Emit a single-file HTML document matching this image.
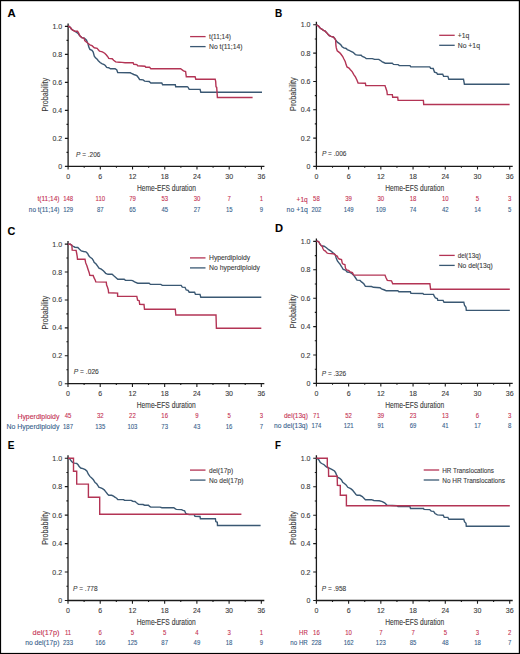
<!DOCTYPE html>
<html><head><meta charset="utf-8"><style>
html,body{margin:0;padding:0;background:#fff;}
svg{display:block;}
text{font-family:"Liberation Sans", sans-serif;stroke-width:0.1px;}
</style></head><body>
<svg width="520" height="654" viewBox="0 0 520 654">
<rect width="520" height="654" fill="#fff"/>
<text x="0" y="16.70" font-size="11.4" font-weight="bold" fill="#000" stroke="#000" transform="translate(7.40 0) scale(0.990 1)">A</text>
<path d="M68.10 23.40V166.40H264.42" fill="none" stroke="#1a1a1a" stroke-width="1.3"/>
<path d="M64.90 166.40H68.10M66.50 152.40H68.10M64.90 138.40H68.10M66.50 124.40H68.10M64.90 110.40H68.10M66.50 96.40H68.10M64.90 82.40H68.10M66.50 68.40H68.10M64.90 54.40H68.10M66.50 40.40H68.10M64.90 26.40H68.10M68.10 166.40V169.60M84.21 166.40V167.80M100.32 166.40V169.60M116.43 166.40V167.80M132.54 166.40V169.60M148.65 166.40V167.80M164.76 166.40V169.60M180.87 166.40V167.80M196.98 166.40V169.60M213.09 166.40V167.80M229.20 166.40V169.60M245.31 166.40V167.80M261.42 166.40V169.60" stroke="#1a1a1a" stroke-width="1.1" fill="none"/>
<text x="62.20" y="168.90" text-anchor="end" font-size="7" fill="#3a3a3a" stroke="#3a3a3a">0</text>
<text x="62.20" y="140.90" text-anchor="end" font-size="7" fill="#3a3a3a" stroke="#3a3a3a">0.2</text>
<text x="62.20" y="112.90" text-anchor="end" font-size="7" fill="#3a3a3a" stroke="#3a3a3a">0.4</text>
<text x="62.20" y="84.90" text-anchor="end" font-size="7" fill="#3a3a3a" stroke="#3a3a3a">0.6</text>
<text x="62.20" y="56.90" text-anchor="end" font-size="7" fill="#3a3a3a" stroke="#3a3a3a">0.8</text>
<text x="62.20" y="28.90" text-anchor="end" font-size="7" fill="#3a3a3a" stroke="#3a3a3a">1.0</text>
<text x="68.10" y="178.70" text-anchor="middle" font-size="7" fill="#3a3a3a" stroke="#3a3a3a">0</text>
<text x="100.32" y="178.70" text-anchor="middle" font-size="7" fill="#3a3a3a" stroke="#3a3a3a">6</text>
<text x="132.54" y="178.70" text-anchor="middle" font-size="7" fill="#3a3a3a" stroke="#3a3a3a">12</text>
<text x="164.76" y="178.70" text-anchor="middle" font-size="7" fill="#3a3a3a" stroke="#3a3a3a">18</text>
<text x="196.98" y="178.70" text-anchor="middle" font-size="7" fill="#3a3a3a" stroke="#3a3a3a">24</text>
<text x="229.20" y="178.70" text-anchor="middle" font-size="7" fill="#3a3a3a" stroke="#3a3a3a">30</text>
<text x="261.42" y="178.70" text-anchor="middle" font-size="7" fill="#3a3a3a" stroke="#3a3a3a">36</text>
<text transform="translate(47.70 94.70) rotate(-90)" text-anchor="middle" font-size="8.8" fill="#3a3a3a" stroke="#3a3a3a" textLength="33.6" lengthAdjust="spacingAndGlyphs">Probability</text>
<text x="136.90" y="190.70" font-size="8.2" fill="#3a3a3a" stroke="#3a3a3a" textLength="59" lengthAdjust="spacingAndGlyphs">Heme-EFS duration</text>
<text x="76.00" y="157.30" font-size="7" fill="#3a3a3a" stroke="#3a3a3a" textLength="24.4" lengthAdjust="spacingAndGlyphs"><tspan font-style="italic">P</tspan> = .206</text>
<path d="M190.10 36.60h15.5" stroke="#b33455" stroke-width="1.3"/>
<path d="M190.10 46.60h15.5" stroke="#3a5873" stroke-width="1.3"/>
<text x="209.10" y="39.10" font-size="7" fill="#3a3a3a" stroke="#3a3a3a" textLength="21.9" lengthAdjust="spacingAndGlyphs">t(11;14)</text>
<text x="209.10" y="49.10" font-size="7" fill="#3a3a3a" stroke="#3a3a3a" textLength="33.3" lengthAdjust="spacingAndGlyphs">No t(11;14)</text>
<text x="59.50" y="201.30" text-anchor="end" font-size="7" fill="#c42e50" stroke="#c42e50" textLength="22.1" lengthAdjust="spacingAndGlyphs">t(11;14)</text>
<text x="59.50" y="211.70" text-anchor="end" font-size="7" fill="#355d8a" stroke="#355d8a" textLength="30.7" lengthAdjust="spacingAndGlyphs">no t(11;14)</text>
<text x="0.00" y="201.30" text-anchor="middle" font-size="7.3" fill="#c42e50" stroke="#c42e50" transform="translate(68.10 0) scale(0.82 1) translate(0.00 0)">148</text>
<text x="0.00" y="211.70" text-anchor="middle" font-size="7.3" fill="#355d8a" stroke="#355d8a" transform="translate(68.10 0) scale(0.82 1) translate(0.00 0)">129</text>
<text x="0.00" y="201.30" text-anchor="middle" font-size="7.3" fill="#c42e50" stroke="#c42e50" transform="translate(100.32 0) scale(0.82 1) translate(0.00 0)">110</text>
<text x="0.00" y="211.70" text-anchor="middle" font-size="7.3" fill="#355d8a" stroke="#355d8a" transform="translate(100.32 0) scale(0.82 1) translate(0.00 0)">87</text>
<text x="0.00" y="201.30" text-anchor="middle" font-size="7.3" fill="#c42e50" stroke="#c42e50" transform="translate(132.54 0) scale(0.82 1) translate(0.00 0)">79</text>
<text x="0.00" y="211.70" text-anchor="middle" font-size="7.3" fill="#355d8a" stroke="#355d8a" transform="translate(132.54 0) scale(0.82 1) translate(0.00 0)">65</text>
<text x="0.00" y="201.30" text-anchor="middle" font-size="7.3" fill="#c42e50" stroke="#c42e50" transform="translate(164.76 0) scale(0.82 1) translate(0.00 0)">53</text>
<text x="0.00" y="211.70" text-anchor="middle" font-size="7.3" fill="#355d8a" stroke="#355d8a" transform="translate(164.76 0) scale(0.82 1) translate(0.00 0)">45</text>
<text x="0.00" y="201.30" text-anchor="middle" font-size="7.3" fill="#c42e50" stroke="#c42e50" transform="translate(196.98 0) scale(0.82 1) translate(0.00 0)">30</text>
<text x="0.00" y="211.70" text-anchor="middle" font-size="7.3" fill="#355d8a" stroke="#355d8a" transform="translate(196.98 0) scale(0.82 1) translate(0.00 0)">27</text>
<text x="0.00" y="201.30" text-anchor="middle" font-size="7.3" fill="#c42e50" stroke="#c42e50" transform="translate(229.20 0) scale(0.82 1) translate(0.00 0)">7</text>
<text x="0.00" y="211.70" text-anchor="middle" font-size="7.3" fill="#355d8a" stroke="#355d8a" transform="translate(229.20 0) scale(0.82 1) translate(0.00 0)">15</text>
<text x="0.00" y="201.30" text-anchor="middle" font-size="7.3" fill="#c42e50" stroke="#c42e50" transform="translate(261.42 0) scale(0.82 1) translate(0.00 0)">1</text>
<text x="0.00" y="211.70" text-anchor="middle" font-size="7.3" fill="#355d8a" stroke="#355d8a" transform="translate(261.42 0) scale(0.82 1) translate(0.00 0)">9</text>
<path d="M68.10 26.40L69.20 26.40L70.60 27.80L71.50 29.20L73.20 30.30L74.90 31.50L76.70 32.40L78.40 33.80L79.50 35.50L80.10 36.10L81.80 37.60L84.20 38.10L85.30 39.00L86.50 40.20L87.90 43.60L88.80 47.10L89.90 49.40L92.00 50.30L93.20 52.10L94.30 56.10L95.50 57.80L97.20 59.30L98.30 60.70L100.10 62.50L101.80 63.60L104.10 64.50L105.30 65.60L106.70 67.40L108.70 67.70L110.50 68.80L115.10 68.80L116.80 70.00L117.70 72.50L130.40 72.80L131.50 73.50L133.80 74.50L136.90 75.70L138.10 77.20L139.60 79.50L143.10 79.90L144.60 81.10L149.20 81.50L150.80 83.00L161.80 83.00L162.60 84.80L175.30 84.80L175.70 86.70L187.20 86.70L188.00 87.20L189.20 89.30L200.10 89.40L200.80 92.20L262.00 92.20" fill="none" stroke="#3a5873" stroke-width="1.4"/>
<path d="M68.10 26.40L69.20 26.40L70.60 27.80L71.50 29.20L73.20 30.30L74.90 31.20L77.50 31.20L78.40 32.70L80.10 36.10L81.80 37.60L84.20 38.30L84.70 40.50L87.60 43.00L89.90 44.80L92.00 45.70L94.30 47.80L97.20 48.30L98.30 49.80L99.50 51.20L102.40 51.80L104.70 53.20L106.40 55.00L108.20 57.30L108.70 58.40L112.20 58.70L113.60 60.20L115.70 61.90L119.10 62.20L122.00 62.40L125.00 62.70L133.10 62.70L133.80 64.30L136.90 64.60L137.70 65.80L145.00 66.20L145.80 67.20L149.60 67.30L150.80 68.70L180.60 68.70L183.50 70.90L185.60 71.60L186.30 76.80L195.10 76.80L195.80 79.20L215.20 79.20L215.70 81.60L216.00 86.70L216.70 87.40L217.40 97.50L252.60 97.50" fill="none" stroke="#b33455" stroke-width="1.4"/>
<text x="0" y="16.70" font-size="11.4" font-weight="bold" fill="#000" stroke="#000" transform="translate(275.00 0) scale(0.880 1)">B</text>
<path d="M316.40 21.80V166.40H512.72" fill="none" stroke="#1a1a1a" stroke-width="1.3"/>
<path d="M313.20 166.40H316.40M314.80 152.24H316.40M313.20 138.08H316.40M314.80 123.92H316.40M313.20 109.76H316.40M314.80 95.60H316.40M313.20 81.44H316.40M314.80 67.28H316.40M313.20 53.12H316.40M314.80 38.96H316.40M313.20 24.80H316.40M316.40 166.40V169.60M332.51 166.40V167.80M348.62 166.40V169.60M364.73 166.40V167.80M380.84 166.40V169.60M396.95 166.40V167.80M413.06 166.40V169.60M429.17 166.40V167.80M445.28 166.40V169.60M461.39 166.40V167.80M477.50 166.40V169.60M493.61 166.40V167.80M509.72 166.40V169.60" stroke="#1a1a1a" stroke-width="1.1" fill="none"/>
<text x="310.50" y="168.90" text-anchor="end" font-size="7" fill="#3a3a3a" stroke="#3a3a3a">0</text>
<text x="310.50" y="140.58" text-anchor="end" font-size="7" fill="#3a3a3a" stroke="#3a3a3a">0.2</text>
<text x="310.50" y="112.26" text-anchor="end" font-size="7" fill="#3a3a3a" stroke="#3a3a3a">0.4</text>
<text x="310.50" y="83.94" text-anchor="end" font-size="7" fill="#3a3a3a" stroke="#3a3a3a">0.6</text>
<text x="310.50" y="55.62" text-anchor="end" font-size="7" fill="#3a3a3a" stroke="#3a3a3a">0.8</text>
<text x="310.50" y="27.30" text-anchor="end" font-size="7" fill="#3a3a3a" stroke="#3a3a3a">1.0</text>
<text x="316.40" y="178.70" text-anchor="middle" font-size="7" fill="#3a3a3a" stroke="#3a3a3a">0</text>
<text x="348.62" y="178.70" text-anchor="middle" font-size="7" fill="#3a3a3a" stroke="#3a3a3a">6</text>
<text x="380.84" y="178.70" text-anchor="middle" font-size="7" fill="#3a3a3a" stroke="#3a3a3a">12</text>
<text x="413.06" y="178.70" text-anchor="middle" font-size="7" fill="#3a3a3a" stroke="#3a3a3a">18</text>
<text x="445.28" y="178.70" text-anchor="middle" font-size="7" fill="#3a3a3a" stroke="#3a3a3a">24</text>
<text x="477.50" y="178.70" text-anchor="middle" font-size="7" fill="#3a3a3a" stroke="#3a3a3a">30</text>
<text x="509.72" y="178.70" text-anchor="middle" font-size="7" fill="#3a3a3a" stroke="#3a3a3a">36</text>
<text transform="translate(296.00 94.10) rotate(-90)" text-anchor="middle" font-size="8.8" fill="#3a3a3a" stroke="#3a3a3a" textLength="33.6" lengthAdjust="spacingAndGlyphs">Probability</text>
<text x="385.20" y="190.70" font-size="8.2" fill="#3a3a3a" stroke="#3a3a3a" textLength="59" lengthAdjust="spacingAndGlyphs">Heme-EFS duration</text>
<text x="321.90" y="155.80" font-size="7" fill="#3a3a3a" stroke="#3a3a3a" textLength="24.6" lengthAdjust="spacingAndGlyphs"><tspan font-style="italic">P</tspan> = .006</text>
<path d="M439.20 35.30h15.5" stroke="#b33455" stroke-width="1.3"/>
<path d="M439.20 45.30h15.5" stroke="#3a5873" stroke-width="1.3"/>
<text x="457.70" y="37.80" font-size="7" fill="#3a3a3a" stroke="#3a3a3a" textLength="11.5" lengthAdjust="spacingAndGlyphs">+1q</text>
<text x="457.70" y="47.80" font-size="7" fill="#3a3a3a" stroke="#3a3a3a" textLength="22.3" lengthAdjust="spacingAndGlyphs">No +1q</text>
<text x="307.80" y="201.50" text-anchor="end" font-size="7" fill="#c42e50" stroke="#c42e50" textLength="11.2" lengthAdjust="spacingAndGlyphs">+1q</text>
<text x="307.80" y="211.70" text-anchor="end" font-size="7" fill="#355d8a" stroke="#355d8a" textLength="21.2" lengthAdjust="spacingAndGlyphs">no +1q</text>
<text x="0.00" y="201.50" text-anchor="middle" font-size="7.3" fill="#c42e50" stroke="#c42e50" transform="translate(316.40 0) scale(0.82 1) translate(0.00 0)">58</text>
<text x="0.00" y="211.70" text-anchor="middle" font-size="7.3" fill="#355d8a" stroke="#355d8a" transform="translate(316.40 0) scale(0.82 1) translate(0.00 0)">202</text>
<text x="0.00" y="201.50" text-anchor="middle" font-size="7.3" fill="#c42e50" stroke="#c42e50" transform="translate(348.62 0) scale(0.82 1) translate(0.00 0)">39</text>
<text x="0.00" y="211.70" text-anchor="middle" font-size="7.3" fill="#355d8a" stroke="#355d8a" transform="translate(348.62 0) scale(0.82 1) translate(0.00 0)">149</text>
<text x="0.00" y="201.50" text-anchor="middle" font-size="7.3" fill="#c42e50" stroke="#c42e50" transform="translate(380.84 0) scale(0.82 1) translate(0.00 0)">30</text>
<text x="0.00" y="211.70" text-anchor="middle" font-size="7.3" fill="#355d8a" stroke="#355d8a" transform="translate(380.84 0) scale(0.82 1) translate(0.00 0)">109</text>
<text x="0.00" y="201.50" text-anchor="middle" font-size="7.3" fill="#c42e50" stroke="#c42e50" transform="translate(413.06 0) scale(0.82 1) translate(0.00 0)">18</text>
<text x="0.00" y="211.70" text-anchor="middle" font-size="7.3" fill="#355d8a" stroke="#355d8a" transform="translate(413.06 0) scale(0.82 1) translate(0.00 0)">74</text>
<text x="0.00" y="201.50" text-anchor="middle" font-size="7.3" fill="#c42e50" stroke="#c42e50" transform="translate(445.28 0) scale(0.82 1) translate(0.00 0)">10</text>
<text x="0.00" y="211.70" text-anchor="middle" font-size="7.3" fill="#355d8a" stroke="#355d8a" transform="translate(445.28 0) scale(0.82 1) translate(0.00 0)">42</text>
<text x="0.00" y="201.50" text-anchor="middle" font-size="7.3" fill="#c42e50" stroke="#c42e50" transform="translate(477.50 0) scale(0.82 1) translate(0.00 0)">5</text>
<text x="0.00" y="211.70" text-anchor="middle" font-size="7.3" fill="#355d8a" stroke="#355d8a" transform="translate(477.50 0) scale(0.82 1) translate(0.00 0)">14</text>
<text x="0.00" y="201.50" text-anchor="middle" font-size="7.3" fill="#c42e50" stroke="#c42e50" transform="translate(509.72 0) scale(0.82 1) translate(0.00 0)">3</text>
<text x="0.00" y="211.70" text-anchor="middle" font-size="7.3" fill="#355d8a" stroke="#355d8a" transform="translate(509.72 0) scale(0.82 1) translate(0.00 0)">5</text>
<path d="M316.40 24.80L318.30 25.75L319.50 27.20L320.30 28.30L321.80 29.20L323.50 30.40L325.20 31.20L326.40 32.40L327.50 33.80L329.30 35.60L331.00 36.40L333.30 37.00L334.50 38.20L335.60 39.90L337.30 42.20L339.10 43.40L340.80 44.80L342.10 46.70L343.80 47.90L346.10 48.50L347.30 49.60L349.60 50.50L350.50 51.20L353.10 52.30L355.40 54.60L357.70 55.10L361.20 55.30L362.30 56.50L364.60 57.30L366.20 58.50L372.30 58.60L374.60 59.40L378.80 59.40L380.80 60.80L382.30 61.90L383.80 62.50L385.40 63.30L392.30 63.30L393.50 64.40L398.10 64.60L399.20 65.60L410.00 65.60L410.80 66.90L429.80 66.90L430.60 68.30L433.20 68.50L434.50 72.10L436.70 72.80L437.50 74.30L442.70 74.30L443.60 76.30L447.90 76.40L448.80 79.20L463.50 79.20L464.40 84.20L509.60 84.20" fill="none" stroke="#3a5873" stroke-width="1.4"/>
<path d="M316.40 24.80L318.30 25.75L319.50 27.20L320.30 28.30L321.80 29.20L323.50 30.40L325.20 31.20L326.40 32.40L327.50 33.80L329.30 35.60L331.00 36.40L333.30 37.00L334.50 38.20L335.60 40.00L335.90 45.10L336.30 47.90L337.20 50.80L338.60 51.90L340.10 53.10L341.20 54.50L342.70 56.50L343.80 58.80L345.30 61.70L346.10 64.60L347.00 66.90L349.00 68.10L350.40 69.80L352.30 71.90L353.80 74.60L355.40 76.90L356.90 80.00L358.10 83.10L365.40 83.20L365.80 85.60L385.00 85.60L385.80 88.10L386.90 91.20L387.30 94.50L392.30 94.60L392.70 97.20L397.70 97.30L398.10 100.40L423.40 100.40L423.70 104.50L509.60 104.50" fill="none" stroke="#b33455" stroke-width="1.4"/>
<text x="0" y="234.60" font-size="11.4" font-weight="bold" fill="#000" stroke="#000" transform="translate(7.40 0) scale(0.950 1)">C</text>
<path d="M68.00 241.10V383.70H264.32" fill="none" stroke="#1a1a1a" stroke-width="1.3"/>
<path d="M64.80 383.70H68.00M66.40 369.74H68.00M64.80 355.78H68.00M66.40 341.82H68.00M64.80 327.86H68.00M66.40 313.90H68.00M64.80 299.94H68.00M66.40 285.98H68.00M64.80 272.02H68.00M66.40 258.06H68.00M64.80 244.10H68.00M68.00 383.70V386.90M84.11 383.70V385.10M100.22 383.70V386.90M116.33 383.70V385.10M132.44 383.70V386.90M148.55 383.70V385.10M164.66 383.70V386.90M180.77 383.70V385.10M196.88 383.70V386.90M212.99 383.70V385.10M229.10 383.70V386.90M245.21 383.70V385.10M261.32 383.70V386.90" stroke="#1a1a1a" stroke-width="1.1" fill="none"/>
<text x="62.10" y="386.20" text-anchor="end" font-size="7" fill="#3a3a3a" stroke="#3a3a3a">0</text>
<text x="62.10" y="358.28" text-anchor="end" font-size="7" fill="#3a3a3a" stroke="#3a3a3a">0.2</text>
<text x="62.10" y="330.36" text-anchor="end" font-size="7" fill="#3a3a3a" stroke="#3a3a3a">0.4</text>
<text x="62.10" y="302.44" text-anchor="end" font-size="7" fill="#3a3a3a" stroke="#3a3a3a">0.6</text>
<text x="62.10" y="274.52" text-anchor="end" font-size="7" fill="#3a3a3a" stroke="#3a3a3a">0.8</text>
<text x="62.10" y="246.60" text-anchor="end" font-size="7" fill="#3a3a3a" stroke="#3a3a3a">1.0</text>
<text x="68.00" y="396.00" text-anchor="middle" font-size="7" fill="#3a3a3a" stroke="#3a3a3a">0</text>
<text x="100.22" y="396.00" text-anchor="middle" font-size="7" fill="#3a3a3a" stroke="#3a3a3a">6</text>
<text x="132.44" y="396.00" text-anchor="middle" font-size="7" fill="#3a3a3a" stroke="#3a3a3a">12</text>
<text x="164.66" y="396.00" text-anchor="middle" font-size="7" fill="#3a3a3a" stroke="#3a3a3a">18</text>
<text x="196.88" y="396.00" text-anchor="middle" font-size="7" fill="#3a3a3a" stroke="#3a3a3a">24</text>
<text x="229.10" y="396.00" text-anchor="middle" font-size="7" fill="#3a3a3a" stroke="#3a3a3a">30</text>
<text x="261.32" y="396.00" text-anchor="middle" font-size="7" fill="#3a3a3a" stroke="#3a3a3a">36</text>
<text transform="translate(47.60 312.70) rotate(-90)" text-anchor="middle" font-size="8.8" fill="#3a3a3a" stroke="#3a3a3a" textLength="33.6" lengthAdjust="spacingAndGlyphs">Probability</text>
<text x="136.80" y="408.00" font-size="8.2" fill="#3a3a3a" stroke="#3a3a3a" textLength="59" lengthAdjust="spacingAndGlyphs">Heme-EFS duration</text>
<text x="73.80" y="373.90" font-size="7" fill="#3a3a3a" stroke="#3a3a3a" textLength="25.0" lengthAdjust="spacingAndGlyphs"><tspan font-style="italic">P</tspan> = .026</text>
<path d="M190.00 257.90h15.5" stroke="#b33455" stroke-width="1.3"/>
<path d="M190.00 267.90h15.5" stroke="#3a5873" stroke-width="1.3"/>
<text x="209.00" y="260.40" font-size="7" fill="#3a3a3a" stroke="#3a3a3a" textLength="41.1" lengthAdjust="spacingAndGlyphs">Hyperdiploidy</text>
<text x="209.00" y="270.40" font-size="7" fill="#3a3a3a" stroke="#3a3a3a" textLength="51.0" lengthAdjust="spacingAndGlyphs">No hyperdiploidy</text>
<text x="59.40" y="418.50" text-anchor="end" font-size="7" fill="#c42e50" stroke="#c42e50" textLength="42.0" lengthAdjust="spacingAndGlyphs">Hyperdiploidy</text>
<text x="59.40" y="428.70" text-anchor="end" font-size="7" fill="#355d8a" stroke="#355d8a" textLength="53.0" lengthAdjust="spacingAndGlyphs">No Hyperdiploidy</text>
<text x="0.00" y="418.50" text-anchor="middle" font-size="7.3" fill="#c42e50" stroke="#c42e50" transform="translate(68.00 0) scale(0.82 1) translate(0.00 0)">45</text>
<text x="0.00" y="428.70" text-anchor="middle" font-size="7.3" fill="#355d8a" stroke="#355d8a" transform="translate(68.00 0) scale(0.82 1) translate(0.00 0)">187</text>
<text x="0.00" y="418.50" text-anchor="middle" font-size="7.3" fill="#c42e50" stroke="#c42e50" transform="translate(100.22 0) scale(0.82 1) translate(0.00 0)">32</text>
<text x="0.00" y="428.70" text-anchor="middle" font-size="7.3" fill="#355d8a" stroke="#355d8a" transform="translate(100.22 0) scale(0.82 1) translate(0.00 0)">135</text>
<text x="0.00" y="418.50" text-anchor="middle" font-size="7.3" fill="#c42e50" stroke="#c42e50" transform="translate(132.44 0) scale(0.82 1) translate(0.00 0)">22</text>
<text x="0.00" y="428.70" text-anchor="middle" font-size="7.3" fill="#355d8a" stroke="#355d8a" transform="translate(132.44 0) scale(0.82 1) translate(0.00 0)">103</text>
<text x="0.00" y="418.50" text-anchor="middle" font-size="7.3" fill="#c42e50" stroke="#c42e50" transform="translate(164.66 0) scale(0.82 1) translate(0.00 0)">16</text>
<text x="0.00" y="428.70" text-anchor="middle" font-size="7.3" fill="#355d8a" stroke="#355d8a" transform="translate(164.66 0) scale(0.82 1) translate(0.00 0)">73</text>
<text x="0.00" y="418.50" text-anchor="middle" font-size="7.3" fill="#c42e50" stroke="#c42e50" transform="translate(196.88 0) scale(0.82 1) translate(0.00 0)">9</text>
<text x="0.00" y="428.70" text-anchor="middle" font-size="7.3" fill="#355d8a" stroke="#355d8a" transform="translate(196.88 0) scale(0.82 1) translate(0.00 0)">43</text>
<text x="0.00" y="418.50" text-anchor="middle" font-size="7.3" fill="#c42e50" stroke="#c42e50" transform="translate(229.10 0) scale(0.82 1) translate(0.00 0)">5</text>
<text x="0.00" y="428.70" text-anchor="middle" font-size="7.3" fill="#355d8a" stroke="#355d8a" transform="translate(229.10 0) scale(0.82 1) translate(0.00 0)">16</text>
<text x="0.00" y="418.50" text-anchor="middle" font-size="7.3" fill="#c42e50" stroke="#c42e50" transform="translate(261.32 0) scale(0.82 1) translate(0.00 0)">3</text>
<text x="0.00" y="428.70" text-anchor="middle" font-size="7.3" fill="#355d8a" stroke="#355d8a" transform="translate(261.32 0) scale(0.82 1) translate(0.00 0)">7</text>
<path d="M68.00 244.10L70.30 244.30L72.60 246.00L74.90 247.20L77.80 247.50L79.50 249.20L81.30 250.90L83.60 251.50L85.90 251.80L87.60 253.50L88.80 255.80L89.90 257.00L92.20 258.70L93.40 260.50L94.10 262.30L96.10 264.00L97.80 266.30L99.00 268.10L101.30 269.20L103.60 271.00L105.70 273.30L108.00 274.30L112.10 274.30L113.80 275.80L115.50 277.20L117.80 279.20L124.20 279.20L125.40 280.30L131.10 280.40L132.60 280.60L134.60 281.90L137.70 283.20L149.20 283.30L150.40 284.40L160.80 284.40L162.30 285.40L181.20 285.40L182.30 287.10L185.00 287.30L186.20 290.00L188.10 290.40L189.20 292.20L194.60 292.30L195.40 294.20L200.00 294.40L200.80 297.30L261.30 297.30" fill="none" stroke="#3a5873" stroke-width="1.4"/>
<path d="M68.00 244.10L70.30 244.30L71.80 245.20L72.00 247.20L72.20 250.10L76.10 250.40L76.70 253.50L77.20 256.40L77.50 259.30L85.00 259.30L85.70 262.90L86.90 265.80L88.00 269.20L89.20 272.70L89.80 275.30L93.20 275.50L94.10 277.90L95.30 280.20L95.80 281.90L106.30 282.10L106.60 285.00L107.50 287.30L108.30 289.90L108.60 292.80L117.60 293.10L117.60 296.40L136.80 296.40L137.60 300.20L139.20 300.70L139.70 304.40L144.00 304.50L144.50 309.20L175.30 309.20L175.80 315.00L216.00 315.00L216.40 328.30L261.30 328.30" fill="none" stroke="#b33455" stroke-width="1.4"/>
<text x="0" y="232.00" font-size="11.4" font-weight="bold" fill="#000" stroke="#000" transform="translate(275.10 0) scale(0.975 1)">D</text>
<path d="M316.40 238.40V383.40H512.72" fill="none" stroke="#1a1a1a" stroke-width="1.3"/>
<path d="M313.20 383.40H316.40M314.80 369.20H316.40M313.20 355.00H316.40M314.80 340.80H316.40M313.20 326.60H316.40M314.80 312.40H316.40M313.20 298.20H316.40M314.80 284.00H316.40M313.20 269.80H316.40M314.80 255.60H316.40M313.20 241.40H316.40M316.40 383.40V386.60M332.51 383.40V384.80M348.62 383.40V386.60M364.73 383.40V384.80M380.84 383.40V386.60M396.95 383.40V384.80M413.06 383.40V386.60M429.17 383.40V384.80M445.28 383.40V386.60M461.39 383.40V384.80M477.50 383.40V386.60M493.61 383.40V384.80M509.72 383.40V386.60" stroke="#1a1a1a" stroke-width="1.1" fill="none"/>
<text x="310.50" y="385.90" text-anchor="end" font-size="7" fill="#3a3a3a" stroke="#3a3a3a">0</text>
<text x="310.50" y="357.50" text-anchor="end" font-size="7" fill="#3a3a3a" stroke="#3a3a3a">0.2</text>
<text x="310.50" y="329.10" text-anchor="end" font-size="7" fill="#3a3a3a" stroke="#3a3a3a">0.4</text>
<text x="310.50" y="300.70" text-anchor="end" font-size="7" fill="#3a3a3a" stroke="#3a3a3a">0.6</text>
<text x="310.50" y="272.30" text-anchor="end" font-size="7" fill="#3a3a3a" stroke="#3a3a3a">0.8</text>
<text x="310.50" y="243.90" text-anchor="end" font-size="7" fill="#3a3a3a" stroke="#3a3a3a">1.0</text>
<text x="316.40" y="395.70" text-anchor="middle" font-size="7" fill="#3a3a3a" stroke="#3a3a3a">0</text>
<text x="348.62" y="395.70" text-anchor="middle" font-size="7" fill="#3a3a3a" stroke="#3a3a3a">6</text>
<text x="380.84" y="395.70" text-anchor="middle" font-size="7" fill="#3a3a3a" stroke="#3a3a3a">12</text>
<text x="413.06" y="395.70" text-anchor="middle" font-size="7" fill="#3a3a3a" stroke="#3a3a3a">18</text>
<text x="445.28" y="395.70" text-anchor="middle" font-size="7" fill="#3a3a3a" stroke="#3a3a3a">24</text>
<text x="477.50" y="395.70" text-anchor="middle" font-size="7" fill="#3a3a3a" stroke="#3a3a3a">30</text>
<text x="509.72" y="395.70" text-anchor="middle" font-size="7" fill="#3a3a3a" stroke="#3a3a3a">36</text>
<text transform="translate(296.00 311.40) rotate(-90)" text-anchor="middle" font-size="8.8" fill="#3a3a3a" stroke="#3a3a3a" textLength="33.6" lengthAdjust="spacingAndGlyphs">Probability</text>
<text x="385.20" y="407.70" font-size="8.2" fill="#3a3a3a" stroke="#3a3a3a" textLength="59" lengthAdjust="spacingAndGlyphs">Heme-EFS duration</text>
<text x="321.80" y="375.80" font-size="7" fill="#3a3a3a" stroke="#3a3a3a" textLength="24.4" lengthAdjust="spacingAndGlyphs"><tspan font-style="italic">P</tspan> = .326</text>
<path d="M439.20 255.40h15.5" stroke="#b33455" stroke-width="1.3"/>
<path d="M439.20 265.40h15.5" stroke="#3a5873" stroke-width="1.3"/>
<text x="457.70" y="257.90" font-size="7" fill="#3a3a3a" stroke="#3a3a3a" textLength="23.1" lengthAdjust="spacingAndGlyphs">del(13q)</text>
<text x="457.70" y="267.90" font-size="7" fill="#3a3a3a" stroke="#3a3a3a" textLength="35.1" lengthAdjust="spacingAndGlyphs">No del(13q)</text>
<text x="307.80" y="417.80" text-anchor="end" font-size="7" fill="#c42e50" stroke="#c42e50" textLength="23.8" lengthAdjust="spacingAndGlyphs">del(13q)</text>
<text x="307.80" y="427.80" text-anchor="end" font-size="7" fill="#355d8a" stroke="#355d8a" textLength="33.8" lengthAdjust="spacingAndGlyphs">no del(13q)</text>
<text x="0.00" y="417.80" text-anchor="middle" font-size="7.3" fill="#c42e50" stroke="#c42e50" transform="translate(316.40 0) scale(0.82 1) translate(0.00 0)">71</text>
<text x="0.00" y="427.80" text-anchor="middle" font-size="7.3" fill="#355d8a" stroke="#355d8a" transform="translate(316.40 0) scale(0.82 1) translate(0.00 0)">174</text>
<text x="0.00" y="417.80" text-anchor="middle" font-size="7.3" fill="#c42e50" stroke="#c42e50" transform="translate(348.62 0) scale(0.82 1) translate(0.00 0)">52</text>
<text x="0.00" y="427.80" text-anchor="middle" font-size="7.3" fill="#355d8a" stroke="#355d8a" transform="translate(348.62 0) scale(0.82 1) translate(0.00 0)">121</text>
<text x="0.00" y="417.80" text-anchor="middle" font-size="7.3" fill="#c42e50" stroke="#c42e50" transform="translate(380.84 0) scale(0.82 1) translate(0.00 0)">39</text>
<text x="0.00" y="427.80" text-anchor="middle" font-size="7.3" fill="#355d8a" stroke="#355d8a" transform="translate(380.84 0) scale(0.82 1) translate(0.00 0)">91</text>
<text x="0.00" y="417.80" text-anchor="middle" font-size="7.3" fill="#c42e50" stroke="#c42e50" transform="translate(413.06 0) scale(0.82 1) translate(0.00 0)">23</text>
<text x="0.00" y="427.80" text-anchor="middle" font-size="7.3" fill="#355d8a" stroke="#355d8a" transform="translate(413.06 0) scale(0.82 1) translate(0.00 0)">69</text>
<text x="0.00" y="417.80" text-anchor="middle" font-size="7.3" fill="#c42e50" stroke="#c42e50" transform="translate(445.28 0) scale(0.82 1) translate(0.00 0)">13</text>
<text x="0.00" y="427.80" text-anchor="middle" font-size="7.3" fill="#355d8a" stroke="#355d8a" transform="translate(445.28 0) scale(0.82 1) translate(0.00 0)">41</text>
<text x="0.00" y="417.80" text-anchor="middle" font-size="7.3" fill="#c42e50" stroke="#c42e50" transform="translate(477.50 0) scale(0.82 1) translate(0.00 0)">6</text>
<text x="0.00" y="427.80" text-anchor="middle" font-size="7.3" fill="#355d8a" stroke="#355d8a" transform="translate(477.50 0) scale(0.82 1) translate(0.00 0)">17</text>
<text x="0.00" y="417.80" text-anchor="middle" font-size="7.3" fill="#c42e50" stroke="#c42e50" transform="translate(509.72 0) scale(0.82 1) translate(0.00 0)">3</text>
<text x="0.00" y="427.80" text-anchor="middle" font-size="7.3" fill="#355d8a" stroke="#355d8a" transform="translate(509.72 0) scale(0.82 1) translate(0.00 0)">8</text>
<path d="M316.40 241.40L317.70 241.30L318.90 241.90L320.00 244.20L321.20 245.60L324.10 246.20L326.40 247.70L328.70 249.70L331.00 251.10L332.70 252.60L334.50 254.00L335.60 255.70L336.20 258.00L337.40 260.90L338.50 262.40L339.70 263.70L341.50 266.50L343.20 269.40L345.50 270.00L347.20 272.00L349.50 272.30L351.80 273.50L353.60 275.20L355.30 277.50L357.00 280.10L360.00 280.40L361.50 281.90L363.80 283.80L365.40 286.40L371.50 286.50L373.50 287.30L380.00 287.70L381.50 288.80L384.60 290.00L386.20 290.80L397.90 290.80L398.80 291.70L410.40 291.70L410.90 293.20L422.90 293.50L423.80 294.40L433.50 294.40L434.40 296.50L435.40 298.00L437.30 298.50L437.80 300.20L443.10 300.40L444.00 302.20L463.80 302.20L464.50 305.30L466.00 307.20L466.30 310.40L509.80 310.40" fill="none" stroke="#3a5873" stroke-width="1.4"/>
<path d="M316.40 241.40L317.70 241.30L318.90 241.90L320.00 244.20L321.20 245.60L322.30 246.50L322.90 248.50L324.10 250.50L325.50 251.10L326.70 252.80L328.10 253.40L333.30 253.70L335.00 254.60L336.20 255.70L337.40 256.30L338.00 257.90L339.20 259.00L341.50 259.60L342.30 263.10L343.20 264.20L344.90 264.50L345.50 268.30L346.70 270.00L349.00 270.60L349.50 271.70L352.40 272.60L353.60 274.90L355.30 275.10L385.00 275.10L385.80 277.30L387.30 280.40L391.50 280.80L392.70 283.80L429.90 283.80L430.60 289.30L509.80 289.30" fill="none" stroke="#b33455" stroke-width="1.4"/>
<text x="0" y="449.10" font-size="11.4" font-weight="bold" fill="#000" stroke="#000" transform="translate(7.70 0) scale(0.880 1)">E</text>
<path d="M68.00 455.20V600.50H264.32" fill="none" stroke="#1a1a1a" stroke-width="1.3"/>
<path d="M64.80 600.50H68.00M66.40 586.27H68.00M64.80 572.04H68.00M66.40 557.81H68.00M64.80 543.58H68.00M66.40 529.35H68.00M64.80 515.12H68.00M66.40 500.89H68.00M64.80 486.66H68.00M66.40 472.43H68.00M64.80 458.20H68.00M68.00 600.50V603.70M84.11 600.50V601.90M100.22 600.50V603.70M116.33 600.50V601.90M132.44 600.50V603.70M148.55 600.50V601.90M164.66 600.50V603.70M180.77 600.50V601.90M196.88 600.50V603.70M212.99 600.50V601.90M229.10 600.50V603.70M245.21 600.50V601.90M261.32 600.50V603.70" stroke="#1a1a1a" stroke-width="1.1" fill="none"/>
<text x="62.10" y="603.00" text-anchor="end" font-size="7" fill="#3a3a3a" stroke="#3a3a3a">0</text>
<text x="62.10" y="574.54" text-anchor="end" font-size="7" fill="#3a3a3a" stroke="#3a3a3a">0.2</text>
<text x="62.10" y="546.08" text-anchor="end" font-size="7" fill="#3a3a3a" stroke="#3a3a3a">0.4</text>
<text x="62.10" y="517.62" text-anchor="end" font-size="7" fill="#3a3a3a" stroke="#3a3a3a">0.6</text>
<text x="62.10" y="489.16" text-anchor="end" font-size="7" fill="#3a3a3a" stroke="#3a3a3a">0.8</text>
<text x="62.10" y="460.70" text-anchor="end" font-size="7" fill="#3a3a3a" stroke="#3a3a3a">1.0</text>
<text x="68.00" y="612.80" text-anchor="middle" font-size="7" fill="#3a3a3a" stroke="#3a3a3a">0</text>
<text x="100.22" y="612.80" text-anchor="middle" font-size="7" fill="#3a3a3a" stroke="#3a3a3a">6</text>
<text x="132.44" y="612.80" text-anchor="middle" font-size="7" fill="#3a3a3a" stroke="#3a3a3a">12</text>
<text x="164.66" y="612.80" text-anchor="middle" font-size="7" fill="#3a3a3a" stroke="#3a3a3a">18</text>
<text x="196.88" y="612.80" text-anchor="middle" font-size="7" fill="#3a3a3a" stroke="#3a3a3a">24</text>
<text x="229.10" y="612.80" text-anchor="middle" font-size="7" fill="#3a3a3a" stroke="#3a3a3a">30</text>
<text x="261.32" y="612.80" text-anchor="middle" font-size="7" fill="#3a3a3a" stroke="#3a3a3a">36</text>
<text transform="translate(47.60 527.90) rotate(-90)" text-anchor="middle" font-size="8.8" fill="#3a3a3a" stroke="#3a3a3a" textLength="33.6" lengthAdjust="spacingAndGlyphs">Probability</text>
<text x="136.80" y="624.80" font-size="8.2" fill="#3a3a3a" stroke="#3a3a3a" textLength="59" lengthAdjust="spacingAndGlyphs">Heme-EFS duration</text>
<text x="73.00" y="590.80" font-size="7" fill="#3a3a3a" stroke="#3a3a3a" textLength="24.6" lengthAdjust="spacingAndGlyphs"><tspan font-style="italic">P</tspan> = .778</text>
<path d="M190.00 470.10h15.5" stroke="#b33455" stroke-width="1.3"/>
<path d="M190.00 480.10h15.5" stroke="#3a5873" stroke-width="1.3"/>
<text x="209.00" y="472.60" font-size="7" fill="#3a3a3a" stroke="#3a3a3a" textLength="24.2" lengthAdjust="spacingAndGlyphs">del(17p)</text>
<text x="209.00" y="482.60" font-size="7" fill="#3a3a3a" stroke="#3a3a3a" textLength="34.5" lengthAdjust="spacingAndGlyphs">No del(17p)</text>
<text x="59.40" y="635.10" text-anchor="end" font-size="7" fill="#c42e50" stroke="#c42e50" textLength="26.8" lengthAdjust="spacingAndGlyphs">del(17p)</text>
<text x="59.40" y="645.10" text-anchor="end" font-size="7" fill="#355d8a" stroke="#355d8a" textLength="34.2" lengthAdjust="spacingAndGlyphs">no del(17p)</text>
<text x="0.00" y="635.10" text-anchor="middle" font-size="7.3" fill="#c42e50" stroke="#c42e50" transform="translate(68.00 0) scale(0.82 1) translate(0.00 0)">11</text>
<text x="0.00" y="645.10" text-anchor="middle" font-size="7.3" fill="#355d8a" stroke="#355d8a" transform="translate(68.00 0) scale(0.82 1) translate(0.00 0)">233</text>
<text x="0.00" y="635.10" text-anchor="middle" font-size="7.3" fill="#c42e50" stroke="#c42e50" transform="translate(100.22 0) scale(0.82 1) translate(0.00 0)">6</text>
<text x="0.00" y="645.10" text-anchor="middle" font-size="7.3" fill="#355d8a" stroke="#355d8a" transform="translate(100.22 0) scale(0.82 1) translate(0.00 0)">166</text>
<text x="0.00" y="635.10" text-anchor="middle" font-size="7.3" fill="#c42e50" stroke="#c42e50" transform="translate(132.44 0) scale(0.82 1) translate(0.00 0)">5</text>
<text x="0.00" y="645.10" text-anchor="middle" font-size="7.3" fill="#355d8a" stroke="#355d8a" transform="translate(132.44 0) scale(0.82 1) translate(0.00 0)">125</text>
<text x="0.00" y="635.10" text-anchor="middle" font-size="7.3" fill="#c42e50" stroke="#c42e50" transform="translate(164.66 0) scale(0.82 1) translate(0.00 0)">5</text>
<text x="0.00" y="645.10" text-anchor="middle" font-size="7.3" fill="#355d8a" stroke="#355d8a" transform="translate(164.66 0) scale(0.82 1) translate(0.00 0)">87</text>
<text x="0.00" y="635.10" text-anchor="middle" font-size="7.3" fill="#c42e50" stroke="#c42e50" transform="translate(196.88 0) scale(0.82 1) translate(0.00 0)">4</text>
<text x="0.00" y="645.10" text-anchor="middle" font-size="7.3" fill="#355d8a" stroke="#355d8a" transform="translate(196.88 0) scale(0.82 1) translate(0.00 0)">49</text>
<text x="0.00" y="635.10" text-anchor="middle" font-size="7.3" fill="#c42e50" stroke="#c42e50" transform="translate(229.10 0) scale(0.82 1) translate(0.00 0)">3</text>
<text x="0.00" y="645.10" text-anchor="middle" font-size="7.3" fill="#355d8a" stroke="#355d8a" transform="translate(229.10 0) scale(0.82 1) translate(0.00 0)">18</text>
<text x="0.00" y="635.10" text-anchor="middle" font-size="7.3" fill="#c42e50" stroke="#c42e50" transform="translate(261.32 0) scale(0.82 1) translate(0.00 0)">1</text>
<text x="0.00" y="645.10" text-anchor="middle" font-size="7.3" fill="#355d8a" stroke="#355d8a" transform="translate(261.32 0) scale(0.82 1) translate(0.00 0)">9</text>
<path d="M68.00 458.20L68.90 458.20L70.30 459.60L71.50 461.30L72.60 462.50L74.30 463.10L76.70 463.40L78.10 464.80L79.00 466.30L80.70 468.00L83.00 468.60L85.30 469.70L87.00 471.20L88.20 474.00L89.90 476.40L91.70 478.10L93.40 479.80L95.10 482.60L96.70 483.80L97.90 485.50L98.80 487.20L100.80 487.80L102.50 488.70L104.20 489.80L106.00 492.10L107.70 494.20L108.80 495.30L111.70 495.30L113.50 496.20L115.20 497.30L116.90 498.50L117.80 499.60L123.50 499.60L124.60 500.40L131.20 500.40L132.70 501.20L135.00 501.50L136.50 502.70L138.50 504.20L143.10 504.50L144.60 505.20L148.50 505.20L149.60 506.40L150.80 507.10L160.00 507.10L161.90 507.70L173.80 507.70L175.40 508.80L176.20 509.40L181.50 509.60L183.10 510.40L184.60 510.80L185.80 513.50L186.90 514.00L189.20 514.60L194.20 514.60L195.00 516.40L200.00 516.50L200.40 518.70L215.40 518.70L215.80 521.50L217.30 522.30L217.50 525.50L260.60 525.50" fill="none" stroke="#3a5873" stroke-width="1.4"/>
<path d="M68.00 458.20L73.50 458.20L73.50 471.20L76.70 471.20L76.70 484.10L88.40 484.10L88.40 497.30L99.70 497.30L99.70 514.30L241.40 514.30" fill="none" stroke="#b33455" stroke-width="1.4"/>
<text x="0" y="449.50" font-size="11.4" font-weight="bold" fill="#000" stroke="#000" transform="translate(275.00 0) scale(0.850 1)">F</text>
<path d="M316.40 455.30V600.50H512.72" fill="none" stroke="#1a1a1a" stroke-width="1.3"/>
<path d="M313.20 600.50H316.40M314.80 586.28H316.40M313.20 572.06H316.40M314.80 557.84H316.40M313.20 543.62H316.40M314.80 529.40H316.40M313.20 515.18H316.40M314.80 500.96H316.40M313.20 486.74H316.40M314.80 472.52H316.40M313.20 458.30H316.40M316.40 600.50V603.70M332.51 600.50V601.90M348.62 600.50V603.70M364.73 600.50V601.90M380.84 600.50V603.70M396.95 600.50V601.90M413.06 600.50V603.70M429.17 600.50V601.90M445.28 600.50V603.70M461.39 600.50V601.90M477.50 600.50V603.70M493.61 600.50V601.90M509.72 600.50V603.70" stroke="#1a1a1a" stroke-width="1.1" fill="none"/>
<text x="310.50" y="603.00" text-anchor="end" font-size="7" fill="#3a3a3a" stroke="#3a3a3a">0</text>
<text x="310.50" y="574.56" text-anchor="end" font-size="7" fill="#3a3a3a" stroke="#3a3a3a">0.2</text>
<text x="310.50" y="546.12" text-anchor="end" font-size="7" fill="#3a3a3a" stroke="#3a3a3a">0.4</text>
<text x="310.50" y="517.68" text-anchor="end" font-size="7" fill="#3a3a3a" stroke="#3a3a3a">0.6</text>
<text x="310.50" y="489.24" text-anchor="end" font-size="7" fill="#3a3a3a" stroke="#3a3a3a">0.8</text>
<text x="310.50" y="460.80" text-anchor="end" font-size="7" fill="#3a3a3a" stroke="#3a3a3a">1.0</text>
<text x="316.40" y="612.80" text-anchor="middle" font-size="7" fill="#3a3a3a" stroke="#3a3a3a">0</text>
<text x="348.62" y="612.80" text-anchor="middle" font-size="7" fill="#3a3a3a" stroke="#3a3a3a">6</text>
<text x="380.84" y="612.80" text-anchor="middle" font-size="7" fill="#3a3a3a" stroke="#3a3a3a">12</text>
<text x="413.06" y="612.80" text-anchor="middle" font-size="7" fill="#3a3a3a" stroke="#3a3a3a">18</text>
<text x="445.28" y="612.80" text-anchor="middle" font-size="7" fill="#3a3a3a" stroke="#3a3a3a">24</text>
<text x="477.50" y="612.80" text-anchor="middle" font-size="7" fill="#3a3a3a" stroke="#3a3a3a">30</text>
<text x="509.72" y="612.80" text-anchor="middle" font-size="7" fill="#3a3a3a" stroke="#3a3a3a">36</text>
<text transform="translate(296.00 527.90) rotate(-90)" text-anchor="middle" font-size="8.8" fill="#3a3a3a" stroke="#3a3a3a" textLength="33.6" lengthAdjust="spacingAndGlyphs">Probability</text>
<text x="385.20" y="624.80" font-size="8.2" fill="#3a3a3a" stroke="#3a3a3a" textLength="59" lengthAdjust="spacingAndGlyphs">Heme-EFS duration</text>
<text x="321.80" y="590.80" font-size="7" fill="#3a3a3a" stroke="#3a3a3a" textLength="24.4" lengthAdjust="spacingAndGlyphs"><tspan font-style="italic">P</tspan> = .958</text>
<path d="M423.70 470.00h15.5" stroke="#b33455" stroke-width="1.3"/>
<path d="M423.70 480.00h15.5" stroke="#3a5873" stroke-width="1.3"/>
<text x="442.30" y="472.50" font-size="7" fill="#3a3a3a" stroke="#3a3a3a" textLength="51.7" lengthAdjust="spacingAndGlyphs">HR Translocations</text>
<text x="442.30" y="482.50" font-size="7" fill="#3a3a3a" stroke="#3a3a3a" textLength="62.7" lengthAdjust="spacingAndGlyphs">No HR Translocations</text>
<text x="307.80" y="634.90" text-anchor="end" font-size="7" fill="#c42e50" stroke="#c42e50" textLength="8.8" lengthAdjust="spacingAndGlyphs">HR</text>
<text x="307.80" y="645.10" text-anchor="end" font-size="7" fill="#355d8a" stroke="#355d8a" textLength="17.5" lengthAdjust="spacingAndGlyphs">no HR</text>
<text x="0.00" y="634.90" text-anchor="middle" font-size="7.3" fill="#c42e50" stroke="#c42e50" transform="translate(316.40 0) scale(0.82 1) translate(0.00 0)">16</text>
<text x="0.00" y="645.10" text-anchor="middle" font-size="7.3" fill="#355d8a" stroke="#355d8a" transform="translate(316.40 0) scale(0.82 1) translate(0.00 0)">228</text>
<text x="0.00" y="634.90" text-anchor="middle" font-size="7.3" fill="#c42e50" stroke="#c42e50" transform="translate(348.62 0) scale(0.82 1) translate(0.00 0)">10</text>
<text x="0.00" y="645.10" text-anchor="middle" font-size="7.3" fill="#355d8a" stroke="#355d8a" transform="translate(348.62 0) scale(0.82 1) translate(0.00 0)">162</text>
<text x="0.00" y="634.90" text-anchor="middle" font-size="7.3" fill="#c42e50" stroke="#c42e50" transform="translate(380.84 0) scale(0.82 1) translate(0.00 0)">7</text>
<text x="0.00" y="645.10" text-anchor="middle" font-size="7.3" fill="#355d8a" stroke="#355d8a" transform="translate(380.84 0) scale(0.82 1) translate(0.00 0)">123</text>
<text x="0.00" y="634.90" text-anchor="middle" font-size="7.3" fill="#c42e50" stroke="#c42e50" transform="translate(413.06 0) scale(0.82 1) translate(0.00 0)">7</text>
<text x="0.00" y="645.10" text-anchor="middle" font-size="7.3" fill="#355d8a" stroke="#355d8a" transform="translate(413.06 0) scale(0.82 1) translate(0.00 0)">85</text>
<text x="0.00" y="634.90" text-anchor="middle" font-size="7.3" fill="#c42e50" stroke="#c42e50" transform="translate(445.28 0) scale(0.82 1) translate(0.00 0)">5</text>
<text x="0.00" y="645.10" text-anchor="middle" font-size="7.3" fill="#355d8a" stroke="#355d8a" transform="translate(445.28 0) scale(0.82 1) translate(0.00 0)">48</text>
<text x="0.00" y="634.90" text-anchor="middle" font-size="7.3" fill="#c42e50" stroke="#c42e50" transform="translate(477.50 0) scale(0.82 1) translate(0.00 0)">3</text>
<text x="0.00" y="645.10" text-anchor="middle" font-size="7.3" fill="#355d8a" stroke="#355d8a" transform="translate(477.50 0) scale(0.82 1) translate(0.00 0)">18</text>
<text x="0.00" y="634.90" text-anchor="middle" font-size="7.3" fill="#c42e50" stroke="#c42e50" transform="translate(509.72 0) scale(0.82 1) translate(0.00 0)">2</text>
<text x="0.00" y="645.10" text-anchor="middle" font-size="7.3" fill="#355d8a" stroke="#355d8a" transform="translate(509.72 0) scale(0.82 1) translate(0.00 0)">7</text>
<path d="M316.40 458.30L317.40 458.40L318.90 460.00L320.30 462.60L321.80 463.50L324.10 464.70L325.80 466.40L327.50 467.50L329.80 468.40L332.20 469.60L334.50 471.00L335.60 472.70L336.80 475.60L337.50 477.20L339.80 478.30L341.50 480.00L342.70 482.30L344.40 483.50L346.10 484.90L347.80 487.30L350.70 488.70L352.50 490.10L354.20 492.20L355.90 494.50L357.10 495.20L360.00 495.30L362.30 496.60L365.40 499.70L371.50 499.70L373.80 500.50L379.20 500.80L382.30 501.60L384.60 502.80L386.90 505.10L392.30 505.50L396.90 505.80L398.00 506.60L410.00 506.60L410.50 508.50L423.50 508.50L424.00 509.40L429.70 509.60L431.20 511.10L433.60 511.30L435.00 513.50L437.40 514.90L443.20 515.20L444.20 517.30L447.90 517.40L448.90 519.30L463.80 519.30L464.50 521.70L466.00 523.20L466.30 526.30L509.80 526.30" fill="none" stroke="#3a5873" stroke-width="1.4"/>
<path d="M316.40 458.30L327.30 458.30L327.30 466.50L328.50 468.00L328.60 476.20L337.20 476.20L337.40 485.40L340.30 485.50L340.30 495.30L346.40 495.30L346.40 505.80L509.80 505.80" fill="none" stroke="#b33455" stroke-width="1.4"/>
<rect x="0" y="0" width="520" height="1.2" fill="#000"/>
<rect x="0" y="0" width="1.1" height="654" fill="#000"/>
<rect x="518.8" y="0" width="1.2" height="654" fill="#000"/>
<rect x="0" y="652.9" width="520" height="1.1" fill="#000"/>
</svg>
</body></html>
